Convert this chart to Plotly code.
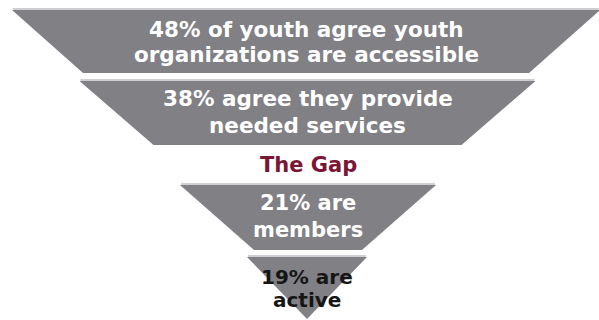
import plotly.graph_objects as go

# Funnel stages: share of youth and the statement for each stage
pcts = [48, 38, 21, 19]
first_lines = ["of youth agree youth", "agree they provide", "are", "are"]
second_lines = ["organizations are accessible", "needed services", "members", "active"]
gap_label = "The Gap"

# Band geometry in pixel space (top y, bottom y, top half-width, bottom half-width, centre x)
band_top = [10, 81, 185, 257]
band_bottom = [73, 145, 250, 319]
half_top = [294, 228, 128, 60]
half_bottom = [223, 154, 54, 0]
centres = [306, 307.5, 308, 307]

# Text placement and styling for each band
line1_y = [29, 98, 203, 277]
line2_y = [54, 125, 230, 300]
font_sizes = [21.5, 21.5, 21, 20]
text_colours = ["white", "white", "white", "#151515"]

GREY = "#808085"
EDGE = "#cfcfd2"
GAP_RED = "#7a1535"
FONT = "DejaVu Sans"

fig = go.Figure()

for i, p in enumerate(pcts):
    cx = centres[i]
    xs = [cx - half_top[i], cx + half_top[i], cx + half_bottom[i], cx - half_bottom[i], cx - half_top[i]]
    ys = [band_top[i], band_top[i], band_bottom[i], band_bottom[i], band_top[i]]
    fig.add_trace(go.Scatter(
        x=xs, y=ys, mode="lines", fill="toself",
        fillcolor=GREY, line=dict(color=GREY, width=0),
        hoverinfo="skip", showlegend=False,
    ))
    # soft highlight along the top edge of each band
    fig.add_trace(go.Scatter(
        x=[cx - half_top[i] + 1, cx + half_top[i] - 1],
        y=[band_top[i] - 1, band_top[i] - 1],
        mode="lines", line=dict(color=EDGE, width=2),
        hoverinfo="skip", showlegend=False,
    ))
    font = dict(family=FONT, size=font_sizes[i], color=text_colours[i], weight="bold")
    fig.add_annotation(
        x=cx, y=line1_y[i], xref="x", yref="y",
        text=f"{p}% {first_lines[i]}", showarrow=False, font=font,
    )
    fig.add_annotation(
        x=cx, y=line2_y[i], xref="x", yref="y",
        text=second_lines[i], showarrow=False, font=font,
    )

fig.add_annotation(
    x=308, y=165, xref="x", yref="y",
    text=gap_label, showarrow=False,
    font=dict(family=FONT, size=21, color=GAP_RED, weight="bold"),
)

fig.update_xaxes(range=[0, 599], visible=False, fixedrange=True)
fig.update_yaxes(range=[320, 0], visible=False, fixedrange=True)
fig.update_layout(
    width=599, height=320,
    margin=dict(l=0, r=0, t=0, b=0),
    paper_bgcolor="white", plot_bgcolor="white",
)

fig.write_html("out.html")
